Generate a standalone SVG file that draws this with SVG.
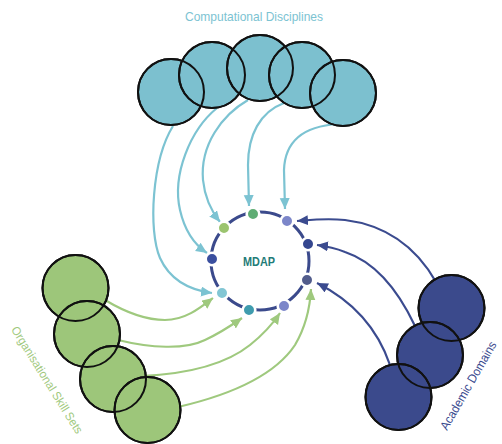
<svg xmlns="http://www.w3.org/2000/svg" width="502" height="444" viewBox="0 0 502 444">
<style>
.lbl{font-family:"Liberation Sans",Arial,sans-serif;}
.cb{fill:none;stroke:#7cc3d2;stroke-width:2.2}
.cg{fill:none;stroke:#9fc97e;stroke-width:2.2}
.cn{fill:none;stroke:#3b4b8f;stroke-width:2.2}
.nb{fill:#7cc0cf;stroke:#111;stroke-width:2}
.ng{fill:#9dc67a;stroke:#111;stroke-width:2}
.nn{fill:#3b4a8c;stroke:#111;stroke-width:2}
.ol{fill:none;stroke:#111;stroke-width:2}
.dot{stroke:#fff;stroke-width:2.6}
</style>
<defs>
<marker id="ab" markerUnits="userSpaceOnUse" markerWidth="12" markerHeight="11" refX="11" refY="5" orient="auto"><path d="M0,0 L11,5 L0,10 z" fill="#7cc3d2"/></marker>
<marker id="ag" markerUnits="userSpaceOnUse" markerWidth="12" markerHeight="11" refX="11" refY="5" orient="auto"><path d="M0,0 L11,5 L0,10 z" fill="#9fc97e"/></marker>
<marker id="an" markerUnits="userSpaceOnUse" markerWidth="12" markerHeight="11" refX="11" refY="5" orient="auto"><path d="M0,0 L11,5 L0,10 z" fill="#3b4b8f"/></marker>
</defs>

<g id="connectors">
<path class="cb" marker-end="url(#ab)" d="M173,126 C152,160 148,230 160,258 C170,280 190,290 212,293"/>
<path class="cb" marker-end="url(#ab)" d="M217,108 C190,130 172,175 180,210 C185,232 195,245 207,253"/>
<path class="cb" marker-end="url(#ab)" d="M248,100 C222,115 200,145 203,180 C205,200 212,212 220,222"/>
<path class="cb" marker-end="url(#ab)" d="M284,103 C260,112 248,135 248,165 L249,206"/>
<path class="cb" marker-end="url(#ab)" d="M338,124 C305,126 285,140 284,170 L285,209"/>
<path class="cg" marker-end="url(#ag)" d="M105,300 C125,312 145,320 165,320 C185,320 200,308 213,298"/>
<path class="cg" marker-end="url(#ag)" d="M118,340 C150,348 185,350 205,340 C220,333 232,325 242,318"/>
<path class="cg" marker-end="url(#ag)" d="M142,376 C185,374 225,365 250,345 C265,333 274,322 280,313"/>
<path class="cg" marker-end="url(#ag)" d="M178,407 C230,395 275,375 295,345 C305,328 310,308 311,289"/>
<path class="cn" marker-end="url(#an)" d="M436,282 C415,245 385,225 345,220 C325,218 310,220 297,221"/>
<path class="cn" marker-end="url(#an)" d="M415,326 C398,290 375,262 345,252 C335,248 325,246 317,245"/>
<path class="cn" marker-end="url(#an)" d="M390,365 C378,330 355,302 317,283"/>
</g>

<g id="computational-disciplines">
<g id="cd1"><circle class="nb" cx="171" cy="92" r="33"/></g>
<g id="cd2"><circle class="nb" cx="212" cy="75" r="33"/></g>
<g id="cd3"><circle class="nb" cx="260" cy="68" r="33"/></g>
<g id="cd4"><circle class="nb" cx="302" cy="75" r="33"/></g>
<g id="cd5"><circle class="nb" cx="343" cy="93" r="33"/></g>
<text class="lbl" x="254" y="21" text-anchor="middle" font-size="13" textLength="138" lengthAdjust="spacingAndGlyphs" fill="#7cc3d2">Computational Disciplines</text>
</g>

<g id="organisational-skill-sets">
<g id="os1"><circle class="ng" cx="75.5" cy="288" r="33"/></g>
<g id="os2"><circle class="ng" cx="87" cy="334" r="33"/></g>
<g id="os3"><circle class="ng" cx="113" cy="379" r="33"/></g>
<g id="os4"><circle class="ng" cx="147.5" cy="410" r="33"/></g>
<text class="lbl" transform="translate(47,380) rotate(58)" x="0" y="4" text-anchor="middle" font-size="12" textLength="124" lengthAdjust="spacingAndGlyphs" fill="#9fc97e">Organisational Skill Sets</text>
</g>

<g id="academic-domains">
<g id="ad1"><circle class="nn" cx="451.5" cy="308" r="33"/></g>
<g id="ad2"><circle class="nn" cx="430" cy="355" r="33"/></g>
<g id="ad3"><circle class="nn" cx="398.5" cy="397" r="33"/></g>
<text class="lbl" transform="translate(447,431) rotate(-60)" x="0" y="0" font-size="12.5" textLength="100" lengthAdjust="spacingAndGlyphs" fill="#3b4b8f">Academic Domains</text>
</g>

<g id="outlines">
<circle class="ol" cx="171" cy="92" r="33"/>
<circle class="ol" cx="212" cy="75" r="33"/>
<circle class="ol" cx="260" cy="68" r="33"/>
<circle class="ol" cx="302" cy="75" r="33"/>
<circle class="ol" cx="343" cy="93" r="33"/>
<circle class="ol" cx="75.5" cy="288" r="33"/>
<circle class="ol" cx="87" cy="334" r="33"/>
<circle class="ol" cx="113" cy="379" r="33"/>
<circle class="ol" cx="147.5" cy="410" r="33"/>
<circle class="ol" cx="451.5" cy="308" r="33"/>
<circle class="ol" cx="430" cy="355" r="33"/>
<circle class="ol" cx="398.5" cy="397" r="33"/>
</g>

<g id="mdap">
<circle cx="260" cy="261" r="49" fill="none" stroke="#3b4a8c" stroke-width="3"/>
<circle class="dot" cx="212" cy="259" r="6.3" fill="#3a4f9f"/>
<circle class="dot" cx="224" cy="228" r="6.3" fill="#9bc46f"/>
<circle class="dot" cx="253" cy="214" r="6.3" fill="#5fad74"/>
<circle class="dot" cx="287" cy="221" r="6.3" fill="#7c86c9"/>
<circle class="dot" cx="308" cy="244" r="6.3" fill="#34468f"/>
<circle class="dot" cx="307" cy="280" r="6.3" fill="#525c8c"/>
<circle class="dot" cx="284" cy="306" r="6.3" fill="#7c86c9"/>
<circle class="dot" cx="249" cy="310" r="6.3" fill="#3f9cae"/>
<circle class="dot" cx="222" cy="293" r="6.3" fill="#82c6d4"/>
<text class="lbl" x="259" y="266" text-anchor="middle" font-size="12" font-weight="bold" textLength="32" lengthAdjust="spacingAndGlyphs" fill="#1f7c78">MDAP</text>
</g>
</svg>
